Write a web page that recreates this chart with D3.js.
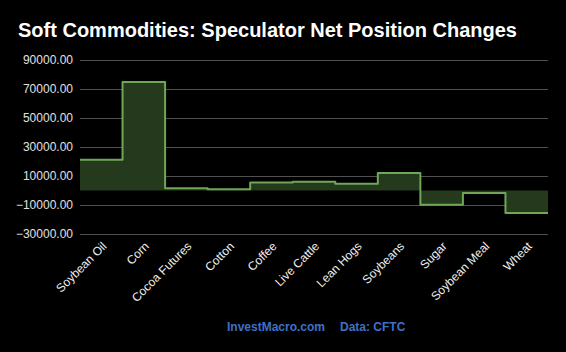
<!DOCTYPE html>
<html>
<head>
<meta charset="utf-8">
<script src="https://cdn.jsdelivr.net/npm/d3@7"></script>
<style>
  body { margin: 0; background: #000; }
  svg { display: block; }
</style>
</head>
<body>
<div id="chart"></div>
<script>
var categories = ["Soybean Oil", "Corn", "Cocoa Futures", "Cotton", "Coffee", "Live Cattle",
                  "Lean Hogs", "Soybeans", "Sugar", "Soybean Meal", "Wheat"];
var netChange = [21200, 74800, 1600, 900, 5500, 6000, 4600, 12000, -9900, -1800, -15600];
var yTicks = [-30000, -10000, 10000, 30000, 50000, 70000, 90000];

var W = 566, H = 352;
var margin = {top: 60, right: 18, bottom: 118, left: 80},
    width = W - margin.left - margin.right,
    height = H - margin.top - margin.bottom;

var svg = d3.select("#chart").append("svg")
  .attr("width", W)
  .attr("height", H)
  .style("background", "#000");

svg.append("text")
  .attr("x", 18)
  .attr("y", 37)
  .attr("fill", "#fff")
  .style("font-family", "Arial, 'Liberation Sans', sans-serif")
  .style("font-weight", "bold")
  .style("font-size", "20px")
  .text("Soft Commodities: Speculator Net Position Changes");

var g = svg.append("g")
  .attr("transform", "translate(" + margin.left + "," + margin.top + ")");

var x = d3.scaleBand()
  .domain(categories)
  .range([0, width])
  .padding(0);

var y = d3.scaleLinear()
  .domain([-30000, 90000])
  .range([height, 0]);

// grid + y labels
var yAxis = g.append("g")
  .call(d3.axisLeft(y).tickValues(yTicks).tickFormat(d3.format(".2f")).tickSize(-width).tickPadding(7));
yAxis.select(".domain").remove();
yAxis.selectAll(".tick line").attr("stroke", "#505050").attr("stroke-width", 1);
yAxis.selectAll(".tick text")
  .attr("fill", "#e0e0e0")
  .style("font-family", "Arial, 'Liberation Sans', sans-serif")
  .style("font-size", "12px");

// step data: one point per band start, plus the end of the last band
var pts = categories.map(function(c, i) { return {x: x(c), v: netChange[i]}; });
pts.push({x: x(categories[categories.length - 1]) + x.bandwidth(), v: netChange[netChange.length - 1]});

var area = d3.area()
  .curve(d3.curveStepAfter)
  .x(function(d) { return d.x; })
  .y0(y(0))
  .y1(function(d) { return y(d.v); });

var line = d3.line()
  .curve(d3.curveStepAfter)
  .x(function(d) { return d.x; })
  .y(function(d) { return y(d.v); });

g.append("path")
  .datum(pts)
  .attr("d", area)
  .attr("fill", "#25391c");

g.append("path")
  .datum(pts)
  .attr("d", line)
  .attr("fill", "none")
  .attr("stroke", "#6da757")
  .attr("stroke-width", 2)
  .attr("stroke-linejoin", "round");

// x labels
g.append("g")
  .selectAll("text")
  .data(categories)
  .enter()
  .append("text")
  .attr("transform", function(d) {
    return "translate(" + (x(d) + x.bandwidth() / 2 + 6) + "," + (height + 13) + ") rotate(-45)";
  })
  .attr("text-anchor", "end")
  .attr("fill", "#f0f0f0")
  .style("font-family", "Arial, 'Liberation Sans', sans-serif")
  .style("font-size", "12px")
  .text(function(d) { return d; });

// footer
svg.append("text")
  .attr("x", 227)
  .attr("y", 331)
  .attr("fill", "#3f70c8")
  .style("font-family", "Arial, 'Liberation Sans', sans-serif")
  .style("font-weight", "bold")
  .style("font-size", "12px")
  .text("InvestMacro.com");

svg.append("text")
  .attr("x", 340)
  .attr("y", 331)
  .attr("fill", "#3f70c8")
  .style("font-family", "Arial, 'Liberation Sans', sans-serif")
  .style("font-weight", "bold")
  .style("font-size", "12px")
  .text("Data: CFTC");
</script>
</body>
</html>
